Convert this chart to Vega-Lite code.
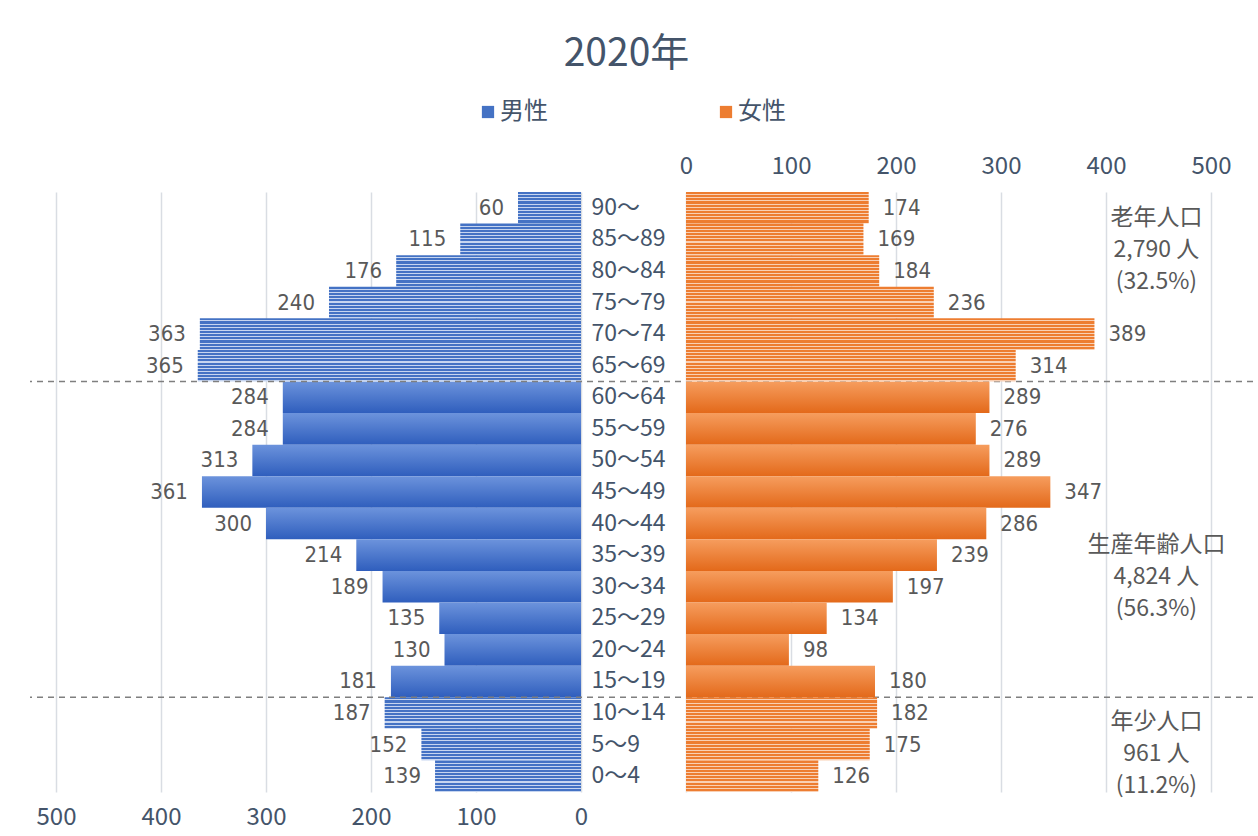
{
  "$schema": "https://vega.github.io/schema/vega-lite/v6.json",
  "width": 1223,
  "height": 600,
  "autosize": {"type": "none"},
  "padding": {"left": 30, "top": 192, "right": 5, "bottom": 44},
  "background": "white",
  "config": {"view": {"stroke": null}, "font": "Liberation Sans Narrow, DejaVu Sans Condensed, Noto Sans CJK JP"},
  "title": {"text": "2020年", "fontSize": 39, "font": "Liberation Sans Narrow, Noto Sans CJK JP", "fontWeight": "normal", "color": "#44546A", "anchor": "middle", "frame": "group", "dx": -15, "offset": 26},
  "datasets": {
    "pop": [
      {"age": "90～", "sex": "男性", "pop": 60, "grp": "老年"},
      {"age": "85～89", "sex": "男性", "pop": 115, "grp": "老年"},
      {"age": "80～84", "sex": "男性", "pop": 176, "grp": "老年"},
      {"age": "75～79", "sex": "男性", "pop": 240, "grp": "老年"},
      {"age": "70～74", "sex": "男性", "pop": 363, "grp": "老年"},
      {"age": "65～69", "sex": "男性", "pop": 365, "grp": "老年"},
      {"age": "60～64", "sex": "男性", "pop": 284, "grp": "生産年齢"},
      {"age": "55～59", "sex": "男性", "pop": 284, "grp": "生産年齢"},
      {"age": "50～54", "sex": "男性", "pop": 313, "grp": "生産年齢"},
      {"age": "45～49", "sex": "男性", "pop": 361, "grp": "生産年齢"},
      {"age": "40～44", "sex": "男性", "pop": 300, "grp": "生産年齢"},
      {"age": "35～39", "sex": "男性", "pop": 214, "grp": "生産年齢"},
      {"age": "30～34", "sex": "男性", "pop": 189, "grp": "生産年齢"},
      {"age": "25～29", "sex": "男性", "pop": 135, "grp": "生産年齢"},
      {"age": "20～24", "sex": "男性", "pop": 130, "grp": "生産年齢"},
      {"age": "15～19", "sex": "男性", "pop": 181, "grp": "生産年齢"},
      {"age": "10～14", "sex": "男性", "pop": 187, "grp": "年少"},
      {"age": "5～9", "sex": "男性", "pop": 152, "grp": "年少"},
      {"age": "0～4", "sex": "男性", "pop": 139, "grp": "年少"},
      {"age": "90～", "sex": "女性", "pop": 174, "grp": "老年"},
      {"age": "85～89", "sex": "女性", "pop": 169, "grp": "老年"},
      {"age": "80～84", "sex": "女性", "pop": 184, "grp": "老年"},
      {"age": "75～79", "sex": "女性", "pop": 236, "grp": "老年"},
      {"age": "70～74", "sex": "女性", "pop": 389, "grp": "老年"},
      {"age": "65～69", "sex": "女性", "pop": 314, "grp": "老年"},
      {"age": "60～64", "sex": "女性", "pop": 289, "grp": "生産年齢"},
      {"age": "55～59", "sex": "女性", "pop": 276, "grp": "生産年齢"},
      {"age": "50～54", "sex": "女性", "pop": 289, "grp": "生産年齢"},
      {"age": "45～49", "sex": "女性", "pop": 347, "grp": "生産年齢"},
      {"age": "40～44", "sex": "女性", "pop": 286, "grp": "生産年齢"},
      {"age": "35～39", "sex": "女性", "pop": 239, "grp": "生産年齢"},
      {"age": "30～34", "sex": "女性", "pop": 197, "grp": "生産年齢"},
      {"age": "25～29", "sex": "女性", "pop": 134, "grp": "生産年齢"},
      {"age": "20～24", "sex": "女性", "pop": 98, "grp": "生産年齢"},
      {"age": "15～19", "sex": "女性", "pop": 180, "grp": "生産年齢"},
      {"age": "10～14", "sex": "女性", "pop": 182, "grp": "年少"},
      {"age": "5～9", "sex": "女性", "pop": 175, "grp": "年少"},
      {"age": "0～4", "sex": "女性", "pop": 126, "grp": "年少"}
    ],
    "notes": [
      {"grp": "老年", "age": "85～89", "label": "老年人口\n2,790 人\n(32.5%)"},
      {"grp": "生産年齢", "age": "30～34", "label": "生産年齢人口\n4,824 人\n(56.3%)"},
      {"grp": "年少", "age": "5～9", "label": "年少人口\n961 人\n(11.2%)"}
    ]
  },
  "data": {"name": "pop"},
  "resolve": {"scale": {"x": "independent"}, "axis": {"x": "independent"}},
  "layer": [
    {
      "layer": [
        {
          "transform": [{"filter": "datum.sex == '男性' && datum.grp == '生産年齢'"}],
          "mark": {"type": "bar", "stroke": null, "fill": {"gradient": "linear", "x1": 0, "y1": 0, "x2": 0, "y2": 1, "stops": [{"offset": 0, "color": "#6C93DC"}, {"offset": 1, "color": "#2F5EBD"}]}},
          "encoding": {
            "y": {"field": "age", "type": "nominal", "sort": ["90～","85～89","80～84","75～79","70～74","65～69","60～64","55～59","50～54","45～49","40～44","35～39","30～34","25～29","20～24","15～19","10～14","5～9","0～4"], "scale": {"domain": ["90～","85～89","80～84","75～79","70～74","65～69","60～64","55～59","50～54","45～49","40～44","35～39","30～34","25～29","20～24","15～19","10～14","5～9","0～4"], "paddingInner": 0, "paddingOuter": 0}, "title": null,
              "axis": {"orient": "right", "offset": -672, "domain": false, "ticks": false, "labelPadding": 10, "labelFontSize": 23, "labelColor": "#44546A", "labelFont": "Liberation Sans Narrow, Noto Sans CJK JP", "labelExpr": "length(datum.label) == 3 && datum.label != '90～' ? '\u00a0\u00a0\u00a0' + datum.label : datum.label"}},
            "x": {"field": "pop", "type": "quantitative", "title": null, "scale": {"domain": [-640, 524.76], "reverse": true, "nice": false, "zero": false},
              "axis": {"orient": "bottom", "values": [0, 100, 200, 300, 400, 500], "grid": true, "gridColor": "#D9DDE3", "gridWidth": 1.5, "domain": false, "ticks": false, "labelPadding": 13, "labelFontSize": 24, "labelColor": "#44546A", "labelFont": "Liberation Sans Narrow, Noto Sans CJK JP"}},
            "x2": {"datum": 0}
          }
        },
        {
          "transform": [{"filter": "datum.sex == '男性' && datum.grp != '生産年齢'"}],
          "mark": {"type": "bar", "stroke": null, "fill": {"gradient": "linear", "x1": 0, "y1": 0, "x2": 0, "y2": 1, "stops": [
            {"offset": 0, "color": "#4472C4"}, {"offset": 0.066, "color": "#4472C4"}, {"offset": 0.066, "color": "#C6D5F0"}, {"offset": 0.1, "color": "#C6D5F0"},
            {"offset": 0.1, "color": "#4472C4"}, {"offset": 0.166, "color": "#4472C4"}, {"offset": 0.166, "color": "#C6D5F0"}, {"offset": 0.2, "color": "#C6D5F0"},
            {"offset": 0.2, "color": "#4472C4"}, {"offset": 0.266, "color": "#4472C4"}, {"offset": 0.266, "color": "#C6D5F0"}, {"offset": 0.3, "color": "#C6D5F0"},
            {"offset": 0.3, "color": "#4472C4"}, {"offset": 0.366, "color": "#4472C4"}, {"offset": 0.366, "color": "#C6D5F0"}, {"offset": 0.4, "color": "#C6D5F0"},
            {"offset": 0.4, "color": "#4472C4"}, {"offset": 0.466, "color": "#4472C4"}, {"offset": 0.466, "color": "#C6D5F0"}, {"offset": 0.5, "color": "#C6D5F0"},
            {"offset": 0.5, "color": "#4472C4"}, {"offset": 0.566, "color": "#4472C4"}, {"offset": 0.566, "color": "#C6D5F0"}, {"offset": 0.6, "color": "#C6D5F0"},
            {"offset": 0.6, "color": "#4472C4"}, {"offset": 0.666, "color": "#4472C4"}, {"offset": 0.666, "color": "#C6D5F0"}, {"offset": 0.7, "color": "#C6D5F0"},
            {"offset": 0.7, "color": "#4472C4"}, {"offset": 0.766, "color": "#4472C4"}, {"offset": 0.766, "color": "#C6D5F0"}, {"offset": 0.8, "color": "#C6D5F0"},
            {"offset": 0.8, "color": "#4472C4"}, {"offset": 0.866, "color": "#4472C4"}, {"offset": 0.866, "color": "#C6D5F0"}, {"offset": 0.9, "color": "#C6D5F0"},
            {"offset": 0.9, "color": "#4472C4"}, {"offset": 0.966, "color": "#4472C4"}, {"offset": 0.966, "color": "#C6D5F0"}, {"offset": 1, "color": "#C6D5F0"}
          ]}},
          "encoding": {
            "y": {"field": "age", "type": "nominal", "sort": ["90～","85～89","80～84","75～79","70～74","65～69","60～64","55～59","50～54","45～49","40～44","35～39","30～34","25～29","20～24","15～19","10～14","5～9","0～4"]},
            "x": {"field": "pop", "type": "quantitative"},
            "x2": {"datum": 0}
          }
        },
        {
          "transform": [{"filter": "datum.sex == '男性'"}],
          "mark": {"type": "text", "align": "right", "baseline": "middle", "dx": -14, "fontSize": 22, "color": "#595959"},
          "encoding": {
            "y": {"field": "age", "type": "nominal", "sort": ["90～","85～89","80～84","75～79","70～74","65～69","60～64","55～59","50～54","45～49","40～44","35～39","30～34","25～29","20～24","15～19","10～14","5～9","0～4"]},
            "x": {"field": "pop", "type": "quantitative"},
            "text": {"field": "pop", "type": "quantitative"}
          }
        },
        {
          "transform": [{"filter": "datum.sex == '男性' && (datum.age == '60～64' || datum.age == '10～14')"}],
          "mark": {"type": "rule", "color": "#7F7F7F", "strokeWidth": 1.5, "strokeDash": [6, 5]},
          "encoding": {
            "y": {"field": "age", "type": "nominal", "bandPosition": 0, "sort": ["90～","85～89","80～84","75～79","70～74","65～69","60～64","55～59","50～54","45～49","40～44","35～39","30～34","25～29","20～24","15～19","10～14","5～9","0～4"]}
          }
        },
        {
          "mark": {"type": "square", "opacity": 0},
          "encoding": {
            "y": {"field": "age", "type": "nominal", "sort": ["90～","85～89","80～84","75～79","70～74","65～69","60～64","55～59","50～54","45～49","40～44","35～39","30～34","25～29","20～24","15～19","10～14","5～9","0～4"]},
            "x": {"field": "pop", "type": "quantitative"},
            "color": {"field": "sex", "type": "nominal", "scale": {"domain": ["男性", "女性"], "range": ["#4472C4", "#ED7D31"]},
              "legend": {"orient": "none", "legendX": 446, "legendY": -92, "direction": "horizontal", "title": null, "symbolType": "square", "symbolSize": 150, "symbolOpacity": 1, "symbolStrokeWidth": 0, "labelFontSize": 24, "labelFont": "Noto Sans CJK JP", "labelColor": "#44546A", "columnPadding": 166, "labelOffset": 0}}
          }
        }
      ]
    },
    {
      "layer": [
        {
          "transform": [{"filter": "datum.sex == '女性' && datum.grp == '生産年齢'"}],
          "mark": {"type": "bar", "stroke": null, "fill": {"gradient": "linear", "x1": 0, "y1": 0, "x2": 0, "y2": 1, "stops": [{"offset": 0, "color": "#F69D5E"}, {"offset": 1, "color": "#E3691A"}]}},
          "encoding": {
            "y": {"field": "age", "type": "nominal", "sort": ["90～","85～89","80～84","75～79","70～74","65～69","60～64","55～59","50～54","45～49","40～44","35～39","30～34","25～29","20～24","15～19","10～14","5～9","0～4"]},
            "x": {"field": "pop", "type": "quantitative", "title": null, "scale": {"domain": [-624.76, 540], "nice": false, "zero": false},
              "axis": {"orient": "top", "values": [0, 100, 200, 300, 400, 500], "grid": true, "gridColor": "#D9DDE3", "gridWidth": 1.5, "domain": false, "ticks": false, "labelPadding": 14, "labelFontSize": 24, "labelColor": "#44546A", "labelFont": "Liberation Sans Narrow, Noto Sans CJK JP"}},
            "x2": {"datum": 0}
          }
        },
        {
          "transform": [{"filter": "datum.sex == '女性' && datum.grp != '生産年齢'"}],
          "mark": {"type": "bar", "stroke": null, "fill": {"gradient": "linear", "x1": 0, "y1": 0, "x2": 0, "y2": 1, "stops": [
            {"offset": 0, "color": "#ED7D31"}, {"offset": 0.066, "color": "#ED7D31"}, {"offset": 0.066, "color": "#F9D0B4"}, {"offset": 0.1, "color": "#F9D0B4"},
            {"offset": 0.1, "color": "#ED7D31"}, {"offset": 0.166, "color": "#ED7D31"}, {"offset": 0.166, "color": "#F9D0B4"}, {"offset": 0.2, "color": "#F9D0B4"},
            {"offset": 0.2, "color": "#ED7D31"}, {"offset": 0.266, "color": "#ED7D31"}, {"offset": 0.266, "color": "#F9D0B4"}, {"offset": 0.3, "color": "#F9D0B4"},
            {"offset": 0.3, "color": "#ED7D31"}, {"offset": 0.366, "color": "#ED7D31"}, {"offset": 0.366, "color": "#F9D0B4"}, {"offset": 0.4, "color": "#F9D0B4"},
            {"offset": 0.4, "color": "#ED7D31"}, {"offset": 0.466, "color": "#ED7D31"}, {"offset": 0.466, "color": "#F9D0B4"}, {"offset": 0.5, "color": "#F9D0B4"},
            {"offset": 0.5, "color": "#ED7D31"}, {"offset": 0.566, "color": "#ED7D31"}, {"offset": 0.566, "color": "#F9D0B4"}, {"offset": 0.6, "color": "#F9D0B4"},
            {"offset": 0.6, "color": "#ED7D31"}, {"offset": 0.666, "color": "#ED7D31"}, {"offset": 0.666, "color": "#F9D0B4"}, {"offset": 0.7, "color": "#F9D0B4"},
            {"offset": 0.7, "color": "#ED7D31"}, {"offset": 0.766, "color": "#ED7D31"}, {"offset": 0.766, "color": "#F9D0B4"}, {"offset": 0.8, "color": "#F9D0B4"},
            {"offset": 0.8, "color": "#ED7D31"}, {"offset": 0.866, "color": "#ED7D31"}, {"offset": 0.866, "color": "#F9D0B4"}, {"offset": 0.9, "color": "#F9D0B4"},
            {"offset": 0.9, "color": "#ED7D31"}, {"offset": 0.966, "color": "#ED7D31"}, {"offset": 0.966, "color": "#F9D0B4"}, {"offset": 1, "color": "#F9D0B4"}
          ]}},
          "encoding": {
            "y": {"field": "age", "type": "nominal", "sort": ["90～","85～89","80～84","75～79","70～74","65～69","60～64","55～59","50～54","45～49","40～44","35～39","30～34","25～29","20～24","15～19","10～14","5～9","0～4"]},
            "x": {"field": "pop", "type": "quantitative"},
            "x2": {"datum": 0}
          }
        },
        {
          "transform": [{"filter": "datum.sex == '女性'"}],
          "mark": {"type": "text", "align": "left", "baseline": "middle", "dx": 14, "fontSize": 22, "color": "#595959"},
          "encoding": {
            "y": {"field": "age", "type": "nominal", "sort": ["90～","85～89","80～84","75～79","70～74","65～69","60～64","55～59","50～54","45～49","40～44","35～39","30～34","25～29","20～24","15～19","10～14","5～9","0～4"]},
            "x": {"field": "pop", "type": "quantitative"},
            "text": {"field": "pop", "type": "quantitative"}
          }
        },
        {
          "data": {"name": "notes"},
          "transform": [{"filter": "datum.grp == '老年'"}],
          "mark": {"type": "text", "align": "center", "baseline": "middle", "dy": -21, "lineBreak": "\n", "lineHeight": 32, "fontSize": 23, "font": "Noto Sans CJK JP", "color": "#595959"},
          "encoding": {
            "y": {"field": "age", "type": "nominal", "sort": ["90～","85～89","80～84","75～79","70～74","65～69","60～64","55～59","50～54","45～49","40～44","35～39","30～34","25～29","20～24","15～19","10～14","5～9","0～4"]},
            "x": {"datum": 448},
            "text": {"field": "label"}
          }
        },
        {
          "data": {"name": "notes"},
          "transform": [{"filter": "datum.grp == '生産年齢'"}],
          "mark": {"type": "text", "align": "center", "baseline": "middle", "dy": -42, "lineBreak": "\n", "lineHeight": 32, "fontSize": 23, "font": "Noto Sans CJK JP", "color": "#595959"},
          "encoding": {
            "y": {"field": "age", "type": "nominal", "sort": ["90～","85～89","80～84","75～79","70～74","65～69","60～64","55～59","50～54","45～49","40～44","35～39","30～34","25～29","20～24","15～19","10～14","5～9","0～4"]},
            "x": {"datum": 448},
            "text": {"field": "label"}
          }
        },
        {
          "data": {"name": "notes"},
          "transform": [{"filter": "datum.grp == '年少'"}],
          "mark": {"type": "text", "align": "center", "baseline": "middle", "dy": -23, "lineBreak": "\n", "lineHeight": 32, "fontSize": 23, "font": "Noto Sans CJK JP", "color": "#595959"},
          "encoding": {
            "y": {"field": "age", "type": "nominal", "sort": ["90～","85～89","80～84","75～79","70～74","65～69","60～64","55～59","50～54","45～49","40～44","35～39","30～34","25～29","20～24","15～19","10～14","5～9","0～4"]},
            "x": {"datum": 448},
            "text": {"field": "label"}
          }
        }
      ]
    }
  ]
}
